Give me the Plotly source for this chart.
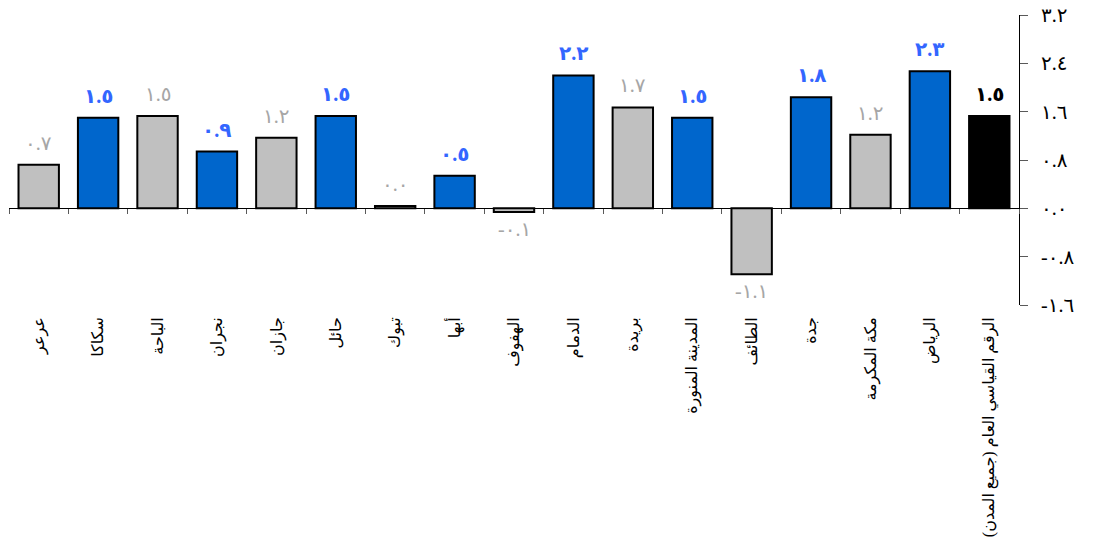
import plotly.graph_objects as go

# ---- data ----
cities = [
    "عرعر", "سكاكا", "الباحة", "نجران", "جازان", "حائل", "تبوك", "أبها", "الهفوف",
    "الدمام", "بريدة", "المدينة المنورة", "الطائف", "جدة", "مكة المكرمة", "الرياض",
    "الرقم القياسي العام (جميع المدن)",
]
values = [0.72, 1.50, 1.53, 0.94, 1.17, 1.53, 0.04, 0.54, -0.06,
          2.20, 1.67, 1.50, -1.09, 1.84, 1.22, 2.27, 1.53]
groups = ["gray", "blue", "gray", "blue", "gray", "blue", "gray", "blue", "gray",
          "blue", "gray", "blue", "gray", "blue", "gray", "blue", "total"]
y_ticks = [-1.6, -0.8, 0.0, 0.8, 1.6, 2.4, 3.2]
y_range = [-1.6, 3.2]

# ---- styles ----
bar_colors = {"blue": "#0066CC", "gray": "#C0C0C0", "total": "#000000"}
label_colors = {"blue": "#3366FF", "gray": "#A6A6A6", "total": "#000000"}
label_bold = {"blue": True, "gray": False, "total": True}

AR_DIGITS = str.maketrans("0123456789", "٠١٢٣٤٥٦٧٨٩")


def ar(v):
    return f"{v:.1f}".translate(AR_DIGITS)


FONT = "Times New Roman, Liberation Serif, DejaVu Sans, serif"

fig = go.Figure()
fig.add_trace(go.Bar(
    x=cities, y=values,
    marker=dict(color=[bar_colors[g] for g in groups],
                line=dict(color="#000000", width=2)),
    width=0.68, hoverinfo="skip", showlegend=False,
))
# helper trace that gives the zero-line axis its categories
fig.add_trace(go.Scatter(
    x=cities, y=values, xaxis="x2", mode="markers",
    marker=dict(opacity=0, size=1), hoverinfo="skip", showlegend=False,
))

for c, v, g in zip(cities, values, groups):
    txt = ar(v)
    if label_bold[g]:
        txt = "<b>" + txt + "</b>"
    pos = v >= 0
    fig.add_annotation(
        x=c, y=v, xref="x", yref="y", text=txt, showarrow=False,
        yanchor="bottom" if pos else "top",
        yshift=9 if pos else -4,
        font=dict(family=FONT, size=20, color=label_colors[g]),
    )

zero_pos = (0 - y_range[0]) / (y_range[1] - y_range[0])

fig.update_layout(
    width=1096, height=549,
    margin=dict(l=9, r=77, t=15, b=244),
    paper_bgcolor="white", plot_bgcolor="white",
    font=dict(family=FONT, color="#000000"),
    xaxis=dict(
        type="category", categoryorder="array", categoryarray=cities,
        range=[-0.5, len(cities) - 0.5],
        showline=False, ticks="", showgrid=False, zeroline=False,
        tickangle=-90, tickfont=dict(family=FONT, size=16, color="#000000"),
        ticklabelstandoff=8, automargin=False,
    ),
    xaxis2=dict(
        type="category", categoryorder="array", categoryarray=cities,
        range=[-0.5, len(cities) - 0.5],
        overlaying="x", anchor="free", position=zero_pos,
        showline=True, linecolor="#000000", linewidth=1,
        ticks="outside", ticklen=5, tickcolor="#595959", tickwidth=1,
        tickson="boundaries", showticklabels=False, showgrid=False,
        zeroline=False, automargin=False,
    ),
    yaxis=dict(
        range=y_range, side="right", showgrid=False, zeroline=False,
        showline=True, linecolor="#000000", linewidth=1,
        ticks="outside", ticklen=8, tickcolor="#595959", tickwidth=1,
        tickvals=y_ticks, ticktext=[ar(t) for t in y_ticks],
        tickfont=dict(family=FONT, size=20, color="#000000"),
        ticklabelstandoff=9, ticklabeloverflow="allow", automargin=False,
    ),
)

fig.write_html(
    "out.html",
    config={"displayModeBar": False},
    post_script="document.body.style.margin='0px';document.body.style.overflow='hidden';",
)
